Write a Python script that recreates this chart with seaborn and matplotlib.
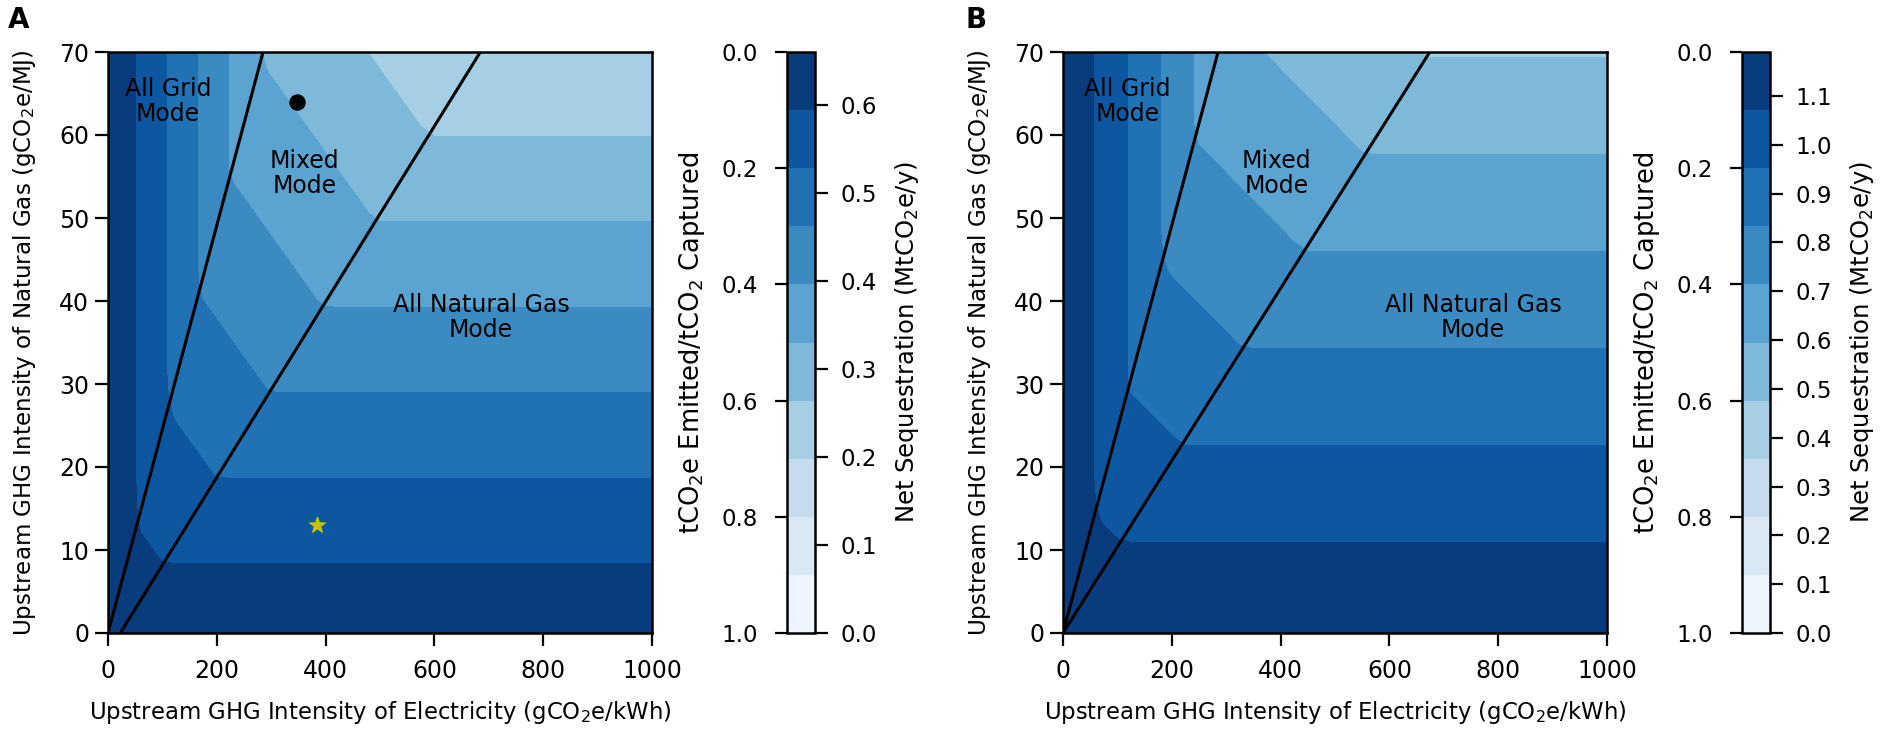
import numpy as np
import seaborn as sns
import matplotlib.pyplot as plt

sns.set_style('ticks')
plt.rcParams['font.family'] = ['DejaVu Sans']
plt.rcParams['axes.linewidth'] = 1.8
plt.rcParams['axes.edgecolor'] = 'black'
plt.rcParams['axes.labelcolor'] = 'black'
plt.rcParams['text.color'] = 'black'
plt.rcParams['xtick.color'] = 'black'
plt.rcParams['ytick.color'] = 'black'
plt.rcParams['xtick.major.width'] = 1.6
plt.rcParams['ytick.major.width'] = 1.6
plt.rcParams['xtick.major.size'] = 9.5
plt.rcParams['ytick.major.size'] = 9.5

# emission ratio bands (tCO2e emitted / tCO2 captured)
levels = [0.0, 0.1, 0.2, 0.3, 0.4, 0.5, 0.6, 0.7, 0.8, 0.9, 1.0]
ratio_ticks = [0.0, 0.2, 0.4, 0.6, 0.8, 1.0]
elec_ticks = [0, 200, 400, 600, 800, 1000]
gas_ticks = [0, 10, 20, 30, 40, 50, 60, 70]

# panel A: ratio = c0 + c1*elec (grid), c0 + c1*gas (NG), c0 + c1*elec + c2*gas (mixed)
grid_A = [0.007, 0.001754]
gas_A = [0.0178, 0.00971]
mixed_A = [0.007, 0.000477, 0.0052]
net_max_A = 0.66
net_ticks_A = [0.0, 0.1, 0.2, 0.3, 0.4, 0.5, 0.6]
dot_A = [348, 64]
star_A = [384, 13]

# panel B
grid_B = [0.005, 0.001631]
gas_B = [0.005, 0.008576]
mixed_B = [0.005, 0.000348, 0.005224]
net_max_B = 1.19
net_ticks_B = [0.0, 0.1, 0.2, 0.3, 0.4, 0.5, 0.6, 0.7, 0.8, 0.9, 1.0, 1.1]

cmap = sns.color_palette('Blues_r', as_cmap=True)

fig = plt.figure(figsize=(18.97, 7.33), dpi=100)


def panel(ax, cax, grid, gas, mixed, net_max, net_ticks, txt):
    x = np.linspace(0, 1000, 41)
    y = np.linspace(0, 70, 41)
    X, Y = np.meshgrid(x, y)
    r_grid = grid[0] + grid[1] * X
    r_gas = gas[0] + gas[1] * Y
    r_mix = mixed[0] + mixed[1] * X + mixed[2] * Y
    r = np.minimum(np.minimum(r_grid, r_gas), r_mix)

    cf = ax.contourf(X, Y, r, levels=levels, cmap=cmap, vmin=0, vmax=1)
    ax.contour(X, Y, r_grid - r_mix, levels=[0], colors='k', linewidths=2.2)
    ax.contour(X, Y, r_mix - r_gas, levels=[0], colors='k', linewidths=2.2)

    ax.set_xlim(0, 1000)
    ax.set_ylim(0, 70)
    ax.set_xticks(elec_ticks)
    ax.set_yticks(gas_ticks)
    ax.tick_params(axis='x', labelsize=17, pad=9)
    ax.tick_params(axis='y', labelsize=17, pad=4)
    ax.set_xlabel('Upstream GHG Intensity of Electricity (gCO$_2$e/kWh)', fontsize=16.4, labelpad=12)
    ax.set_ylabel('Upstream GHG Intensity of Natural Gas (gCO$_2$e/MJ)', fontsize=16.6, labelpad=15)

    for (tx, ty), s in zip(txt, ['All Grid\nMode', 'Mixed\nMode', 'All Natural Gas\nMode']):
        ax.text(tx, ty, s, ha='center', va='center', fontsize=17, linespacing=1.05)

    cb = fig.colorbar(cf, cax=cax)
    cb.outline.set_linewidth(1.8)
    cax.invert_yaxis()
    cax.yaxis.tick_left()
    cax.yaxis.set_label_position('left')
    cb.set_ticks(ratio_ticks)
    cax.tick_params(labelsize=16.5, length=9, width=1.6, pad=12)
    cb.set_label('tCO$_2$e Emitted/tCO$_2$ Captured', fontsize=18.5, labelpad=10)

    cax2 = cax.twinx()
    cax2.set_ylim(0, net_max)
    cax2.set_yticks(net_ticks)
    cax2.set_yticklabels(['%.1f' % v for v in net_ticks])
    cax2.tick_params(labelsize=16.5, length=9, width=1.6, pad=9)
    for sp in cax2.spines.values():
        sp.set_visible(False)
    cax2.set_ylabel('Net Sequestration (MtCO$_2$e/y)', fontsize=17.5, labelpad=12)
    return ax


W, H = 1897, 733
bottom = (H - 633) / H
height = 581 / H
axA = fig.add_axes([108 / W, bottom, 544 / W, height])
caxA = fig.add_axes([787 / W, bottom, 28 / W, height])
axB = fig.add_axes([1063 / W, bottom, 544 / W, height])
caxB = fig.add_axes([1742 / W, bottom, 28 / W, height])

panel(axA, caxA, grid_A, gas_A, mixed_A, net_max_A, net_ticks_A,
      [(110, 64), (362, 55.4), (686, 38)])
panel(axB, caxB, grid_B, gas_B, mixed_B, net_max_B, net_ticks_B,
      [(118, 64), (392, 55.4), (754, 38)])

fig.text(8 / W, 1 - 20 / H, 'A', fontsize=20, fontweight='bold', ha='left', va='center')
fig.text(966 / W, 1 - 20 / H, 'B', fontsize=20, fontweight='bold', ha='left', va='center')

sns.scatterplot(x=[dot_A[0]], y=[dot_A[1]], ax=axA, color='black', s=120, marker='o',
                edgecolor='black', zorder=5)
sns.scatterplot(x=[star_A[0]], y=[star_A[1]], ax=axA, color='#c4c400', s=140, marker='*',
                edgecolor='#c4c400', zorder=5)

fig.savefig('out.png', dpi=100)
